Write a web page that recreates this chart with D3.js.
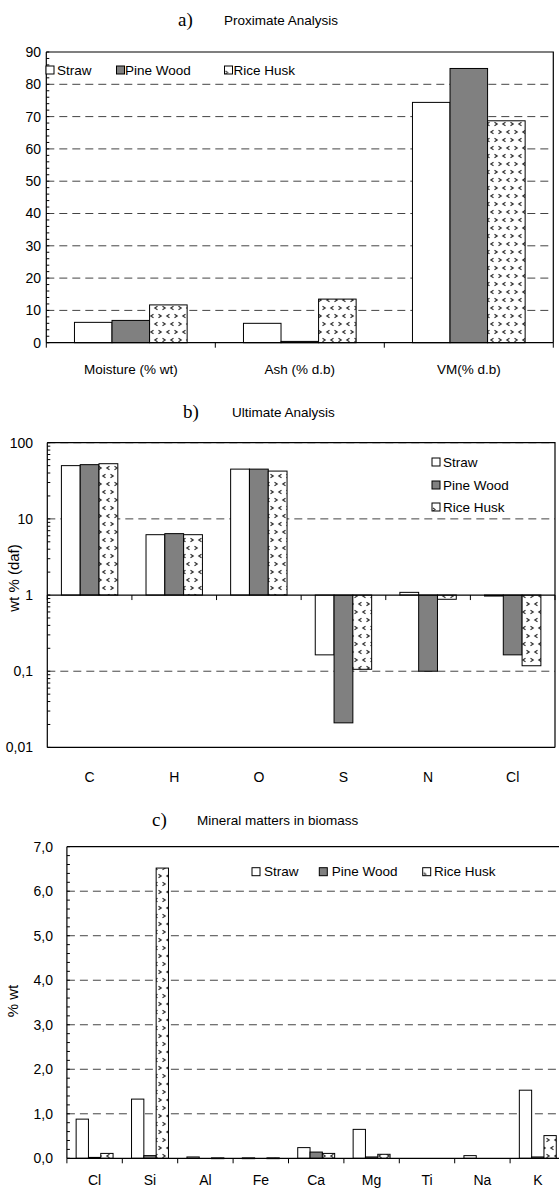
<!DOCTYPE html>
<html><head><meta charset="utf-8">
<script src="https://cdn.jsdelivr.net/npm/d3@7"></script>
<style>
body{margin:0;background:#fff}
text{font-family:"Liberation Sans",Arial,sans-serif;fill:#000}
</style>
</head><body>
<svg id="chart" width="559" height="1189"></svg>
<script>
// ---------- DATA ----------
const seriesNames = ["Straw", "Pine Wood", "Rice Husk"];

// a) Proximate analysis
const catA = ["Moisture (% wt)", "Ash (% d.b)", "VM(% d.b)"];
const strawA = [6.3, 6.0, 74.4];
const pineA = [6.9, 0.4, 84.9];
const huskA = [11.7, 13.5, 68.7];
const ticksA = [0, 10, 20, 30, 40, 50, 60, 70, 80, 90];
const tickLabelsA = ["0", "10", "20", "30", "40", "50", "60", "70", "80", "90"];

// b) Ultimate analysis (log axis, bars from 1)
const catB = ["C", "H", "O", "S", "N", "Cl"];
const strawB = [50, 6.2, 45, 0.164, 1.085, 0.97];
const pineB = [51.5, 6.4, 45, 0.021, 0.1, 0.164];
const huskB = [53, 6.2, 42.4, 0.106, 0.88, 0.118];
const ticksB = [0.01, 0.1, 1, 10, 100];
const tickLabelsB = ["0,01", "0,1", "1", "10", "100"];

// c) Mineral matters in biomass
const catC = ["Cl", "Si", "Al", "Fe", "Ca", "Mg", "Ti", "Na", "K"];
const strawC = [0.88, 1.33, 0.03, 0.01, 0.24, 0.65, 0, 0.06, 1.53];
const pineC = [0.02, 0.06, 0, 0, 0.14, 0.03, 0, 0, 0.03];
const huskC = [0.11, 6.52, 0.01, 0.01, 0.11, 0.09, 0, 0, 0.51];
const ticksC = [0, 1, 2, 3, 4, 5, 6, 7];
const tickLabelsC = ["0,0", "1,0", "2,0", "3,0", "4,0", "5,0", "6,0", "7,0"];

// ---------- DRAWING ----------
const svg = d3.select("#chart");
svg.append("rect").attr("width", 559).attr("height", 1189).attr("fill", "#fff");

const defs = svg.append("defs");
const pat = defs.append("pattern").attr("id", "husk")
  .attr("patternUnits", "userSpaceOnUse").attr("width", 16).attr("height", 16);
pat.append("rect").attr("width", 16).attr("height", 16).attr("fill", "#fff");
const marks = [[4, 4, 1], [12, 4, -1], [8, 12, -1], [16, 12, 1], [0, 12, 1]];
marks.forEach(([mx, my, dir]) => {
  pat.append("path")
    .attr("d", `M${mx - 1.5 * dir},${my - 1.8} L${mx + 1.2 * dir},${my} L${mx - 1.5 * dir},${my + 1.8}`)
    .attr("fill", "none").attr("stroke", "#333").attr("stroke-width", 1.2);
});

// small legend pattern
const patL = defs.append("pattern").attr("id", "huskL")
  .attr("patternUnits", "objectBoundingBox").attr("width", 1).attr("height", 1);
patL.append("rect").attr("width", 8).attr("height", 8).attr("fill", "#fff");
patL.append("path").attr("d", "M1,5 L3,6.5 L1,8").attr("fill", "none").attr("stroke", "#333").attr("stroke-width", 1.2);

const fills = ["#ffffff", "#808080", "url(#husk)"];

function drawPanel(o) {
  const g = svg.append("g");
  const x0 = d3.scaleBand().domain(o.cats).range([o.L, o.R]).paddingInner(1 / 3).paddingOuter(1 / 6);
  const x1 = d3.scaleBand().domain(seriesNames).range([0, x0.bandwidth()]);
  const y = o.y;
  const step = x0.step();

  // gridlines
  g.selectAll(".grid").data(o.grid).join("line")
    .attr("x1", o.L).attr("x2", o.R)
    .attr("y1", d => y(d)).attr("y2", d => y(d))
    .attr("stroke", "#444").attr("stroke-width", 1).attr("stroke-dasharray", "8,5");

  // bars
  const base = y(o.base);
  o.series.forEach((vals, si) => {
    g.selectAll(".b" + si).data(vals.map((v, i) => ({ v, c: o.cats[i] })).filter(d => d.v > 0))
      .join("rect")
      .attr("x", d => x0(d.c) + x1(seriesNames[si]))
      .attr("width", x1.bandwidth())
      .attr("y", d => Math.min(y(d.v), base))
      .attr("height", d => Math.max(Math.abs(y(d.v) - base), 0.8))
      .attr("fill", fills[si]).attr("stroke", "#000").attr("stroke-width", 1);
  });

  // frame
  g.append("path")
    .attr("d", `M${o.L},${o.T} H${o.R} V${o.B} M${o.L},${o.T} V${o.B}`)
    .attr("fill", "none").attr("stroke", "#000").attr("stroke-width", 1.2);
  if (o.bottomBorder) {
    g.append("line").attr("x1", o.L).attr("x2", o.R).attr("y1", o.B).attr("y2", o.B)
      .attr("stroke", "#000").attr("stroke-width", 1.2);
  }
  // x axis line at base
  g.append("line").attr("x1", o.L).attr("x2", o.R).attr("y1", base).attr("y2", base)
    .attr("stroke", "#000").attr("stroke-width", 1.2);
  // category ticks
  d3.range(o.cats.length + 1).forEach(i => {
    g.append("line").attr("x1", o.L + i * step).attr("x2", o.L + i * step)
      .attr("y1", base).attr("y2", base + 5).attr("stroke", "#000");
  });
  // category labels
  g.selectAll(".cl").data(o.cats).join("text")
    .attr("x", d => x0(d) + x0.bandwidth() / 2).attr("y", o.catY)
    .attr("text-anchor", "middle").attr("font-size", o.catSize || 14).text(d => d);

  // y minor ticks
  g.selectAll(".mt").data(o.minor).join("line")
    .attr("x1", o.L).attr("x2", o.L + 3)
    .attr("y1", d => y(d)).attr("y2", d => y(d)).attr("stroke", "#000");
  // y tick labels
  g.selectAll(".yl").data(o.ticks).join("text")
    .attr("x", o.labelX).attr("y", d => y(d))
    .attr("dy", "0.35em").attr("text-anchor", "end").attr("font-size", 14)
    .text((d, i) => o.tickLabels[i]);

  // title
  g.append("text").attr("x", o.titleX).attr("y", o.titleY)
    .style("font-family", '"Liberation Serif","Times New Roman",serif')
    .attr("font-size", 19).text(o.letter);
  g.append("text").attr("x", o.titleX + o.titleGap).attr("y", o.titleY - 1)
    .attr("font-size", 13.5).text(o.title);

  // y axis title
  if (o.yTitle) {
    g.append("text").attr("transform", `translate(${o.yTitleX},${o.yTitleY}) rotate(-90)`)
      .attr("text-anchor", "middle").attr("font-size", 15).text(o.yTitle);
  }

  // legend
  o.legend.forEach(([bx, tx, ly], si) => {
    g.append("rect").attr("x", bx).attr("y", ly - 4).attr("width", 8).attr("height", 8)
      .attr("fill", si === 2 ? "url(#huskL)" : fills[si]).attr("stroke", "#000").attr("stroke-width", 1);
    g.append("text").attr("x", tx).attr("y", ly).attr("dy", "0.35em")
      .attr("font-size", 13.5).text(seriesNames[si]);
  });
}

// Panel a
drawPanel({
  cats: catA, series: [strawA, pineA, huskA],
  L: 46.3, R: 553.3, T: 52, B: 342.7,
  y: d3.scaleLinear().domain([0, 90]).range([342.7, 52]),
  base: 0, grid: [10, 20, 30, 40, 50, 60, 70, 80],
  ticks: ticksA, tickLabels: tickLabelsA, labelX: 41,
  minor: d3.range(0, 91, 2),
  catY: 374, catSize: 13.5,
  letter: "a)", title: "Proximate Analysis", titleX: 178, titleY: 26, titleGap: 46,
  legend: [[46, 57, 70], [116.5, 125, 70], [224.5, 233.5, 70]]
});

// Panel b
const minorB = [];
[0.01, 0.1, 1, 10].forEach(dec => d3.range(1, 10).forEach(k => minorB.push(dec * k)));
minorB.push(100);
drawPanel({
  cats: catB, series: [strawB, pineB, huskB],
  L: 47.3, R: 555, T: 442.7, B: 747.4, bottomBorder: true,
  y: d3.scaleLog().domain([0.01, 100]).range([747.4, 442.7]),
  base: 1, grid: [0.1, 10, 100],
  ticks: ticksB, tickLabels: tickLabelsB, labelX: 33,
  minor: minorB,
  catY: 782,
  letter: "b)", title: "Ultimate Analysis", titleX: 183, titleY: 418, titleGap: 49,
  yTitle: "wt % (daf)", yTitleX: 19, yTitleY: 578,
  legend: [[432, 443, 462], [432, 443, 485], [432, 443, 507]]
});

// Panel c
drawPanel({
  cats: catC, series: [strawC, pineC, huskC],
  L: 66.9, R: 565.5, T: 846.7, B: 1158.3,
  y: d3.scaleLinear().domain([0, 7]).range([1158.3, 846.7]),
  base: 0, grid: [1, 2, 3, 4, 5, 6],
  ticks: ticksC, tickLabels: tickLabelsC, labelX: 53,
  minor: d3.range(0, 7.01, 0.2),
  catY: 1185,
  letter: "c)", title: "Mineral matters in biomass", titleX: 152, titleY: 826, titleGap: 45,
  yTitle: "% wt", yTitleX: 18, yTitleY: 1001,
  legend: [[252, 264, 871.7], [319.3, 331.7, 871.7], [422.7, 434, 871.7]]
});
</script>
</body></html>
